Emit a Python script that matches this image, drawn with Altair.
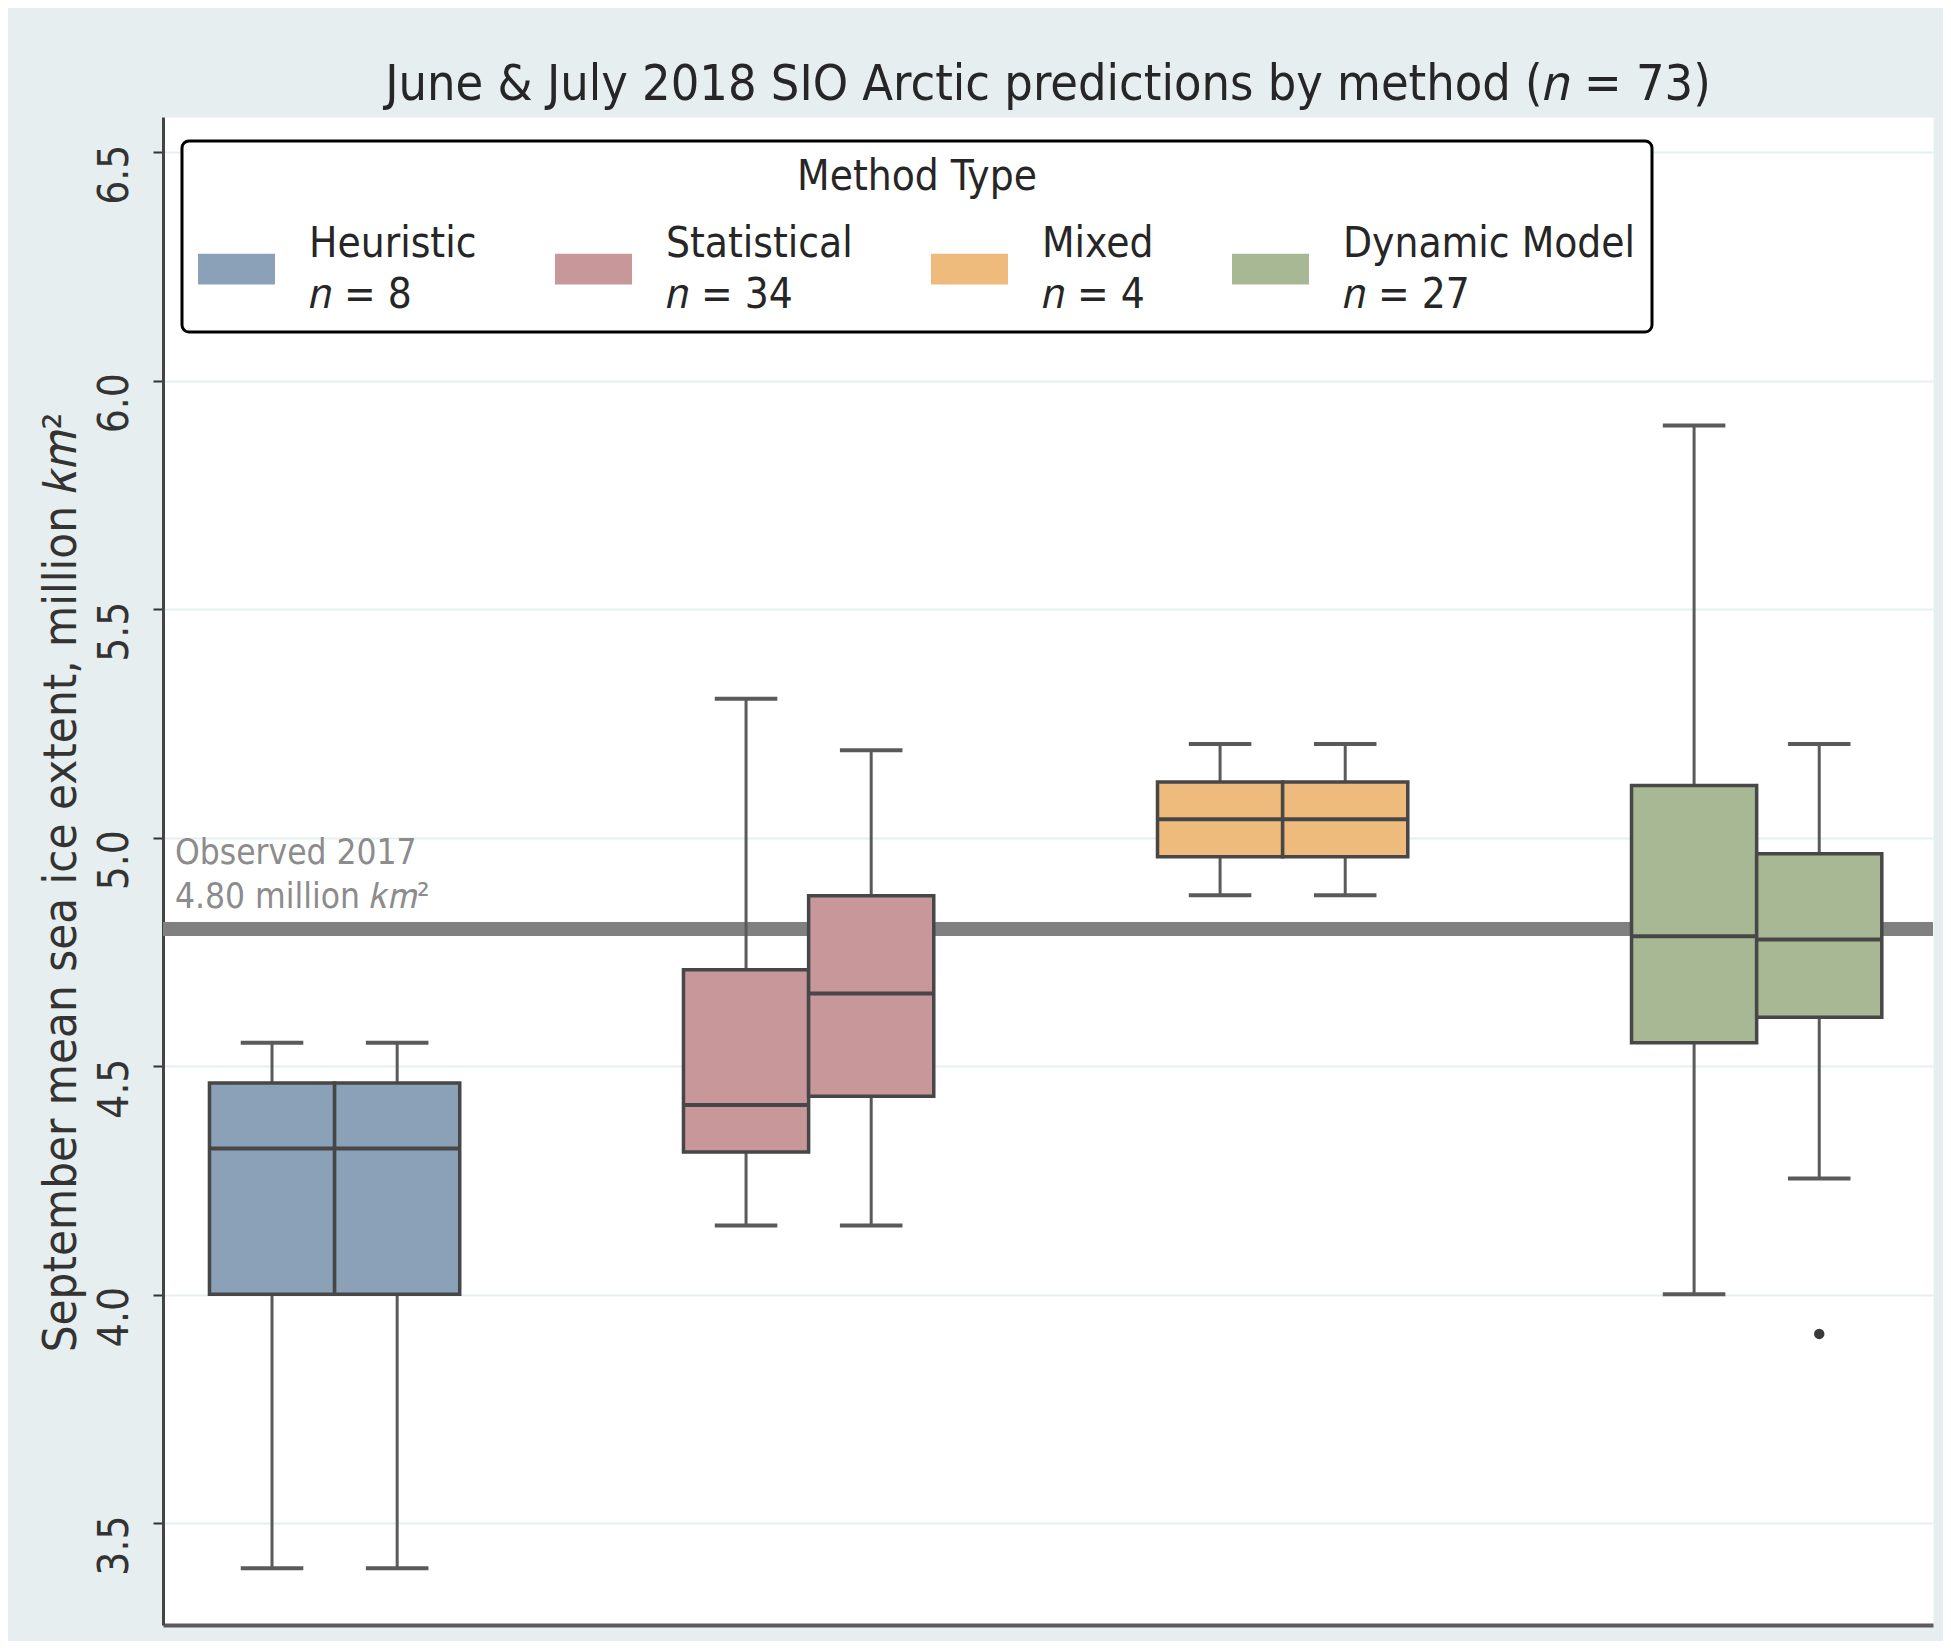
import altair as alt
import pandas as pd

# ---- data ------------------------------------------------------------------
methods = ["Heuristic", "Statistical", "Mixed", "Dynamic Model"]
method_n = [8, 34, 4, 27]
months = ["June", "July"]
colors = ["#8aa1b8", "#c7979a", "#eebb7d", "#a8b895"]

# box statistics, order: (Heuristic June, Heuristic July, Statistical June, ...)
box_method = ["Heuristic", "Heuristic", "Statistical", "Statistical",
              "Mixed", "Mixed", "Dynamic Model", "Dynamic Model"]
box_month = ["June", "July", "June", "July", "June", "July", "June", "July"]
lower = [3.401, 3.401, 4.151, 4.151, 4.874, 4.874, 4.001, 4.254]
q1 = [4.001, 4.001, 4.312, 4.434, 4.958, 4.958, 4.551, 4.607]
median = [4.320, 4.320, 4.415, 4.659, 5.040, 5.040, 4.784, 4.777]
q3 = [4.463, 4.463, 4.711, 4.873, 5.122, 5.122, 5.114, 4.965]
upper = [4.551, 4.551, 5.304, 5.191, 5.205, 5.205, 5.902, 5.205]

outlier_method = ["Dynamic Model"]
outlier_month = ["July"]
outlier_value = [3.914]

observed_year = 2017
observed_value = 4.80

y_ticks = [3.5, 4.0, 4.5, 5.0, 5.5, 6.0, 6.5]

# ---- layout parameters ----------------------------------------------------
FONT = "DejaVu Sans Condensed, DejaVu Sans"
dodge = {"June": -0.132, "July": 0.132}
half_box = 0.132
half_cap = 0.066
ITALIC_N = "\U0001D45B"
KM = "\U0001D458\U0001D45A\u00b2"
# legend swatch: a wide rectangle, shifted down so it sits between the two label lines
SWATCH = "M-1,0.26H1V1.06H-1Z"

df = pd.DataFrame({
    "method": box_method, "month": box_month, "lower": lower, "q1": q1,
    "median": median, "q3": q3, "upper": upper,
})
df["pos"] = [methods.index(m) + dodge[mo] for m, mo in zip(df["method"], df["month"])]
df["box_l"] = df["pos"] - half_box
df["box_r"] = df["pos"] + half_box
df["cap_l"] = df["pos"] - half_cap
df["cap_r"] = df["pos"] + half_cap

out_df = pd.DataFrame({"method": outlier_method, "month": outlier_month, "value": outlier_value})
out_df["pos"] = [methods.index(m) + dodge[mo] for m, mo in zip(out_df["method"], out_df["month"])]

obs_df = pd.DataFrame({
    "value": [observed_value],
    "label": [f"Observed {observed_year}\n{observed_value:.2f} million {KM}"],
})

xscale = alt.Scale(domain=[-0.362, 3.372], nice=False, zero=False)
yscale = alt.Scale(domain=[3.277, 6.577], nice=False, zero=False)

label_expr = ""
for m, n in zip(methods, method_n):
    label_expr += f"datum.label == '{m}' ? ['{m}', '{ITALIC_N} = {n}'] : "
label_expr += "datum.label"

x_axis = alt.Axis(labels=False, ticks=False, grid=False, domain=True, title=None,
                  domainColor="#5a5a5a", domainWidth=4)
y_axis = alt.Axis(
    values=y_ticks, format=".1f", title=f"September mean sea ice extent, million {KM}",
    labelAngle=270, labelAlign="center", labelBaseline="alphabetic", labelPadding=26,
    labelOffset=22, labelFontSize=42, labelFont=FONT, labelColor="#333333",
    tickSize=10, tickWidth=2, tickColor="#333333",
    domainColor="#444444", domainWidth=3,
    grid=True, gridColor="#e6eff0", gridWidth=2,
    titleFont=FONT, titleFontSize=47, titleFontWeight="normal", titleColor="#333333",
    titleAngle=270, titleAlign="center", titleBaseline="alphabetic",
    titleX=-88, titleY=765,
)

base = alt.Chart(df)

obs_line = alt.Chart(obs_df).mark_rule(color="#808080", strokeWidth=14).encode(
    y=alt.Y("value:Q", scale=yscale, axis=y_axis)
)
obs_text = alt.Chart(obs_df).mark_text(
    align="left", baseline="alphabetic", dy=-65, lineBreak="\n", lineHeight=44,
    fontSize=35, font=FONT, color="#8c8c8c"
).encode(x=alt.value(12), y=alt.Y("value:Q", scale=yscale), text="label:N")

whisk_lo = base.mark_rule(color="#5a5a5a", strokeWidth=3).encode(
    x=alt.X("pos:Q", scale=xscale, axis=x_axis), y=alt.Y("lower:Q", scale=yscale), y2="q1:Q")
whisk_hi = base.mark_rule(color="#5a5a5a", strokeWidth=3).encode(
    x=alt.X("pos:Q", scale=xscale), y=alt.Y("q3:Q", scale=yscale), y2="upper:Q")
cap_lo = base.mark_rule(color="#5a5a5a", strokeWidth=4).encode(
    x=alt.X("cap_l:Q", scale=xscale), x2="cap_r:Q", y=alt.Y("lower:Q", scale=yscale))
cap_hi = base.mark_rule(color="#5a5a5a", strokeWidth=4).encode(
    x=alt.X("cap_l:Q", scale=xscale), x2="cap_r:Q", y=alt.Y("upper:Q", scale=yscale))

legend = alt.Legend(
    title="Method Type", orient="none", legendX=19, legendY=24,
    direction="horizontal", columns=4, columnPadding=78,
    symbolType=SWATCH, symbolSize=5929, symbolStrokeWidth=0, symbolOpacity=1,
    labelOffset=34, labelFontSize=42, labelFont=FONT, labelColor="#262626",
    labelExpr=label_expr, labelLimit=600, labelBaseline="middle",
    titleFont=FONT, titleFontSize=42, titleFontWeight="normal", titleColor="#262626",
    titleAnchor="middle", titlePadding=6, titleLimit=900, padding=16,
    strokeColor="#000000", cornerRadius=7, fillColor="#ffffff",
)

boxes = base.mark_bar(stroke="#474747", strokeWidth=3.5, opacity=1).encode(
    x=alt.X("box_l:Q", scale=xscale), x2="box_r:Q",
    y=alt.Y("q1:Q", scale=yscale), y2="q3:Q",
    color=alt.Color("method:N", scale=alt.Scale(domain=methods, range=colors), legend=legend),
)
medians = base.mark_rule(color="#474747", strokeWidth=4).encode(
    x=alt.X("box_l:Q", scale=xscale), x2="box_r:Q", y=alt.Y("median:Q", scale=yscale))

outliers = alt.Chart(out_df).mark_circle(color="#3a3a3a", size=110, opacity=1).encode(
    x=alt.X("pos:Q", scale=xscale), y=alt.Y("value:Q", scale=yscale))

title_text = (f"June & July 2018 SIO Arctic predictions by method "
              f"({ITALIC_N} = {sum(method_n)})")

chart = alt.layer(
    obs_line, obs_text, whisk_lo, whisk_hi, cap_lo, cap_hi, boxes, medians, outliers
).properties(
    width=1770, height=1508,
    padding={"left": 155, "top": 109, "right": 10, "bottom": 16},
    autosize=alt.AutoSizeParams(type="none"),
    title=alt.TitleParams(
        text=title_text, font=FONT, fontSize=50, fontWeight="normal", color="#262626",
        anchor="middle", offset=15, baseline="alphabetic", dy=48,
    ),
).configure(
    background="#e6eeef",
    style={"guide-label": {"lineHeight": 51}},
).configure_view(
    fill="#ffffff", stroke="transparent",
).configure_legend(
    strokeWidth=3,
)

chart.save("out.html", embed_options={"renderer": "svg", "actions": False})
